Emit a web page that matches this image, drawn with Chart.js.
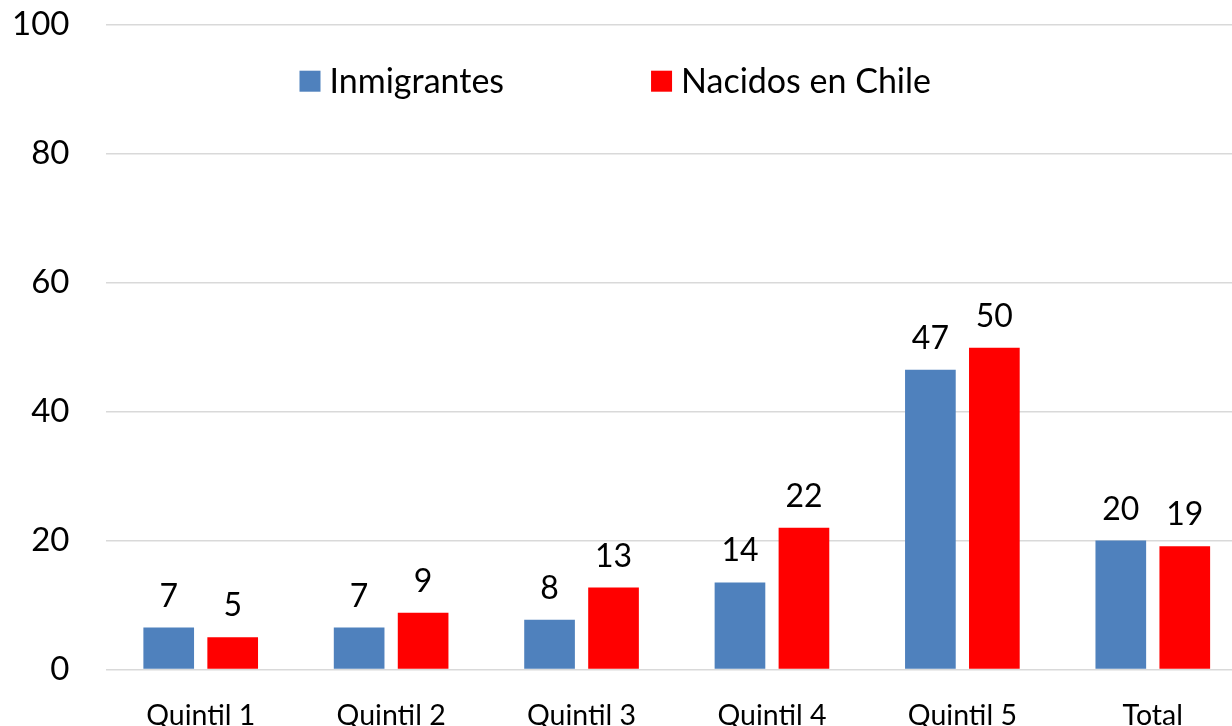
<!DOCTYPE html>
<html>
<head>
<meta charset="utf-8">
<script src="https://cdn.jsdelivr.net/npm/chart.js@4"></script>
<style>
  html, body { margin: 0; padding: 0; background: #fff; overflow: hidden; }
  #wrap { width: 1248px; height: 726px; }
</style>
</head>
<body>
<div id="wrap"><canvas id="chart" width="1248" height="726"></canvas></div>
<script>
// categories and values
const categories = ['Quintil 1', 'Quintil 2', 'Quintil 3', 'Quintil 4', 'Quintil 5', 'Total'];
const inmigrantes = [6.5, 6.5, 7.7, 13.5, 46.5, 20.0];
const nacidos = [5.0, 8.8, 12.7, 22.0, 49.9, 19.1];
const yTicks = [0, 20, 40, 60, 80, 100];

const FONT = 'Lato, "Open Sans", sans-serif';

// value labels above each bar
const barLabels = {
    id: 'barLabels',
    afterDatasetsDraw(chart) {
        const ctx = chart.ctx;
        ctx.save();
        ctx.font = '32px ' + FONT;
        ctx.fillStyle = '#000';
        ctx.textAlign = 'center';
        ctx.textBaseline = 'alphabetic';
        chart.data.datasets.forEach((ds, i) => {
            chart.getDatasetMeta(i).data.forEach((bar, j) => {
                ctx.fillText(Math.round(ds.data[j]), bar.x, bar.y - 21);
            });
        });
        ctx.restore();
    }
};

// legend sitting inside the plot, near the top
const insideLegend = {
    id: 'insideLegend',
    afterDraw(chart) {
        const ctx = chart.ctx;
        const area = chart.chartArea;
        ctx.save();
        ctx.font = '34px ' + FONT;
        ctx.textBaseline = 'alphabetic';
        ctx.textAlign = 'left';
        let x = area.left + 194;
        const top = area.top + 46;
        chart.data.datasets.forEach(ds => {
            ctx.fillStyle = ds.backgroundColor;
            ctx.fillRect(x, top, 21, 21);
            ctx.fillStyle = '#000';
            ctx.fillText(ds.label, x + 30, top + 22);
            x += 30 + ctx.measureText(ds.label).width + 147;
        });
        ctx.restore();
    }
};

new Chart(document.getElementById('chart'), {
    type: 'bar',
    data: {
        labels: categories,
        datasets: [
            {
                label: 'Inmigrantes',
                data: inmigrantes,
                backgroundColor: '#4F81BD',
                categoryPercentage: 0.672,
                barPercentage: 0.792
            },
            {
                label: 'Nacidos en Chile',
                data: nacidos,
                backgroundColor: '#FF0000',
                categoryPercentage: 0.672,
                barPercentage: 0.792
            }
        ]
    },
    options: {
        responsive: false,
        animation: false,
        layout: { padding: { top: 24.7, right: 0, bottom: 0, left: 0 } },
        plugins: {
            legend: { display: false },
            tooltip: { enabled: false }
        },
        scales: {
            x: {
                grid: { display: false },
                border: { display: false },
                ticks: {
                    color: '#000',
                    font: { family: FONT, size: 28.5 },
                    padding: 21,
                    maxRotation: 0
                },
                afterFit(scale) { scale.height = 56.5; }
            },
            y: {
                min: 0,
                max: 100,
                afterBuildTicks(scale) { scale.ticks = yTicks.map(v => ({ value: v })); },
                grid: { color: '#d9d9d9', lineWidth: 1.5, drawTicks: false },
                border: { display: false },
                ticks: {
                    color: '#000',
                    font: { family: FONT, size: 33 },
                    padding: 36
                },
                afterFit(scale) {
                    scale.width = 105.5;
                    scale.paddingTop = 0;
                    scale.paddingBottom = 0;
                }
            }
        }
    },
    plugins: [barLabels, insideLegend]
});
</script>
</body>
</html>
